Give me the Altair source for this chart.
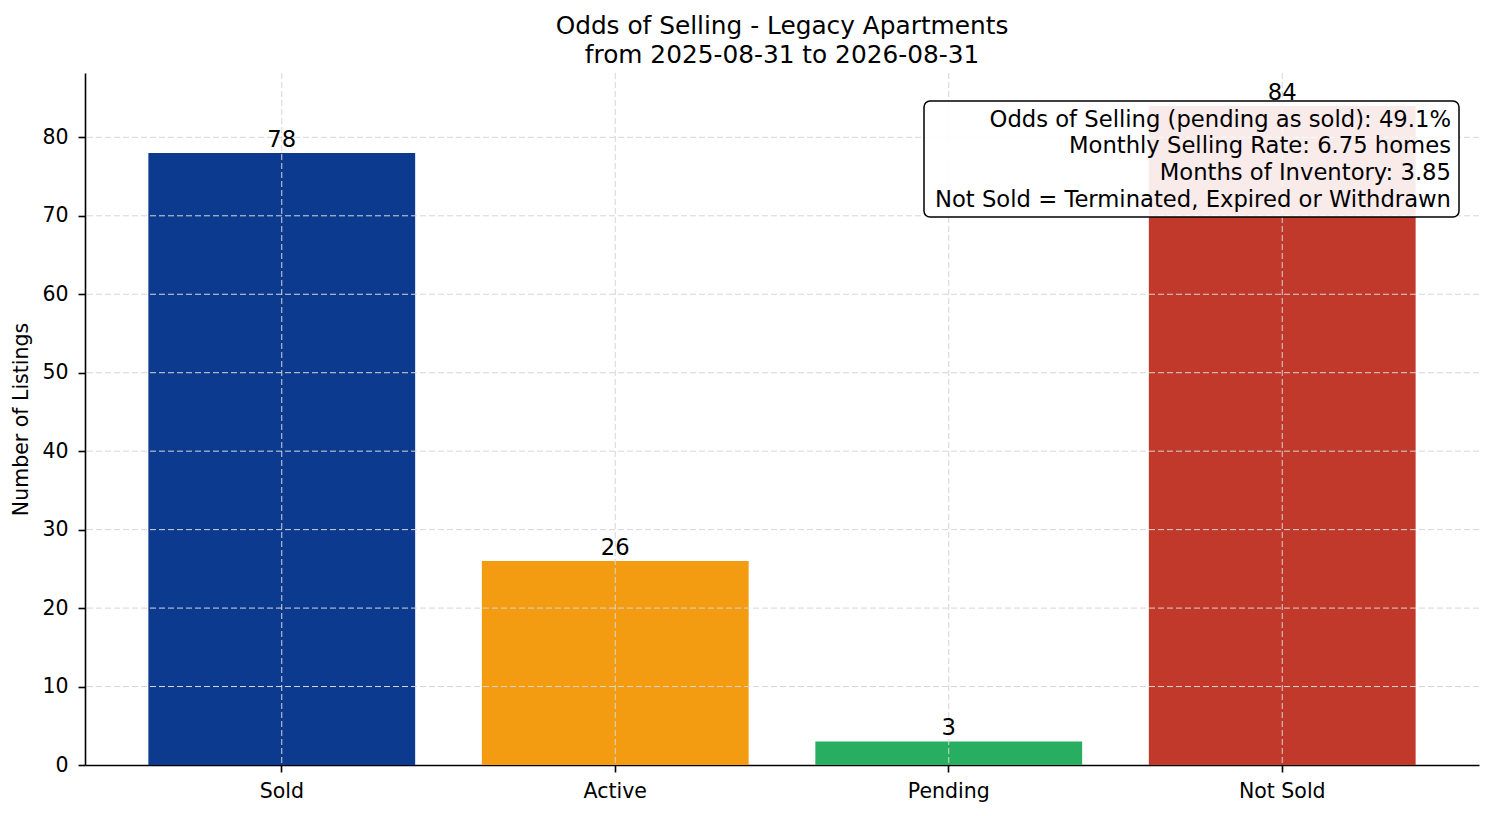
import altair as alt
import pandas as pd

categories = ["Sold", "Active", "Pending", "Not Sold"]
counts = [78, 26, 3, 84]
bar_colors = ["#0B3A8F", "#F39C12", "#27AE60", "#C0392B"]
y_ticks = [0, 10, 20, 30, 40, 50, 60, 70, 80]
title_lines = ["Odds of Selling - Legacy Apartments", "from 2025-08-31 to 2026-08-31"]
info_lines = [
    "Odds of Selling (pending as sold): 49.1%",
    "Monthly Selling Rate: 6.75 homes",
    "Months of Inventory: 3.85",
    "Not Sold = Terminated, Expired or Withdrawn",
]
y_title = "Number of Listings"

df = pd.DataFrame({"cat": categories, "count": counts})
ydf = pd.DataFrame({"count": y_ticks})
one = pd.DataFrame({"k": [0]})

FONT = "DejaVu Sans"
W, H = 1394, 692

xscale = alt.Scale(domain=categories, paddingInner=0.2, paddingOuter=0.19)
yscale = alt.Scale(domain=[0, 88.2], nice=False, zero=True)

x_enc = alt.X(
    "cat:N",
    sort=categories,
    scale=xscale,
    axis=alt.Axis(title=None, labelAngle=0, labelPadding=9),
)
y_enc = alt.Y(
    "count:Q",
    scale=yscale,
    axis=alt.Axis(title=y_title, values=y_ticks, labelPadding=10, titlePadding=10),
)

bars = alt.Chart(df).mark_bar().encode(
    x=x_enc,
    y=y_enc,
    color=alt.Color("cat:N", scale=alt.Scale(domain=categories, range=bar_colors), legend=None),
)

grid_style = dict(color="#d6d6d6", strokeWidth=1, strokeDash=[6, 3])

ygrid = alt.Chart(ydf).transform_filter("datum.count > 0").mark_rule(**grid_style).encode(
    y=alt.Y("count:Q", scale=yscale, title=y_title)
)
xgrid = alt.Chart(df).mark_rule(**grid_style).encode(
    x=alt.X("cat:N", sort=categories, scale=xscale, title=None)
)

labels = alt.Chart(df).mark_text(
    baseline="alphabetic", dy=-6, fontSize=22.7, font=FONT, color="black"
).encode(
    x=alt.X("cat:N", sort=categories, scale=xscale, title=None),
    y=alt.Y("count:Q", scale=yscale, title=y_title),
    text=alt.Text("count:Q"),
)

box = alt.Chart(one).mark_rect(
    fill="white", fillOpacity=0.9, stroke="black", strokeWidth=1.5, cornerRadius=6
).encode(
    x=alt.value(839), x2=alt.value(1374), y=alt.value(28), y2=alt.value(144)
)

info = alt.Chart(one).mark_text(
    text=info_lines,
    align="right",
    baseline="alphabetic",
    fontSize=22.7,
    lineHeight=26.7,
    font=FONT,
    color="black",
).encode(x=alt.value(1366), y=alt.value(53.7))

chart = (
    alt.layer(bars, xgrid, ygrid, labels, box, info)
    .properties(
        width=W,
        height=H,
        background="white",
        title=alt.TitleParams(
            text=title_lines,
            fontSize=24.8,
            font=FONT,
            fontWeight="normal",
            color="black",
            anchor="middle",
            lineHeight=29,
            offset=5,
        ),
        autosize=alt.AutoSizeParams(type="none"),
        padding={"left": 77, "top": 65, "right": 4, "bottom": 45},
    )
    .configure_view(stroke=None)
    .configure_axis(
        grid=False,
        domainColor="black",
        domainWidth=1.6,
        tickColor="black",
        tickWidth=1.6,
        tickSize=7,
        labelFont=FONT,
        labelFontSize=20.5,
        labelColor="black",
        titleFont=FONT,
        titleFontSize=20.5,
        titleFontWeight="normal",
        titleColor="black",
        zindex=1,
    )
)

chart.save("out.html", embed_options={"renderer": "svg", "actions": False})
